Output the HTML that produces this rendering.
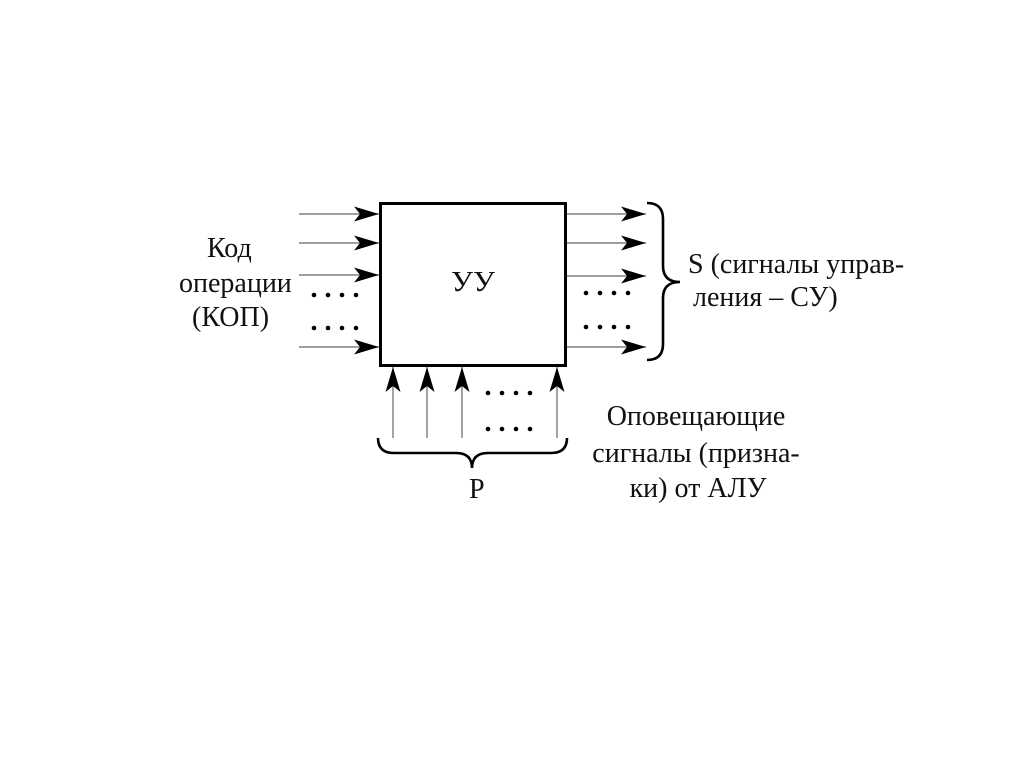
<!DOCTYPE html>
<html><head><meta charset="utf-8"><style>
html,body{margin:0;padding:0;background:#fff;}
svg{display:block;}
text{font-family:"Liberation Serif","DejaVu Serif",serif;font-size:28px;fill:#111;}
</style></head><body>
<svg width="1024" height="767" viewBox="0 0 1024 767" xmlns="http://www.w3.org/2000/svg">
<defs>
<marker id="ah" markerWidth="26" markerHeight="16" refX="25" refY="8" orient="auto" markerUnits="userSpaceOnUse">
<path d="M0,0.5 L25,8 L0,15.5 L6,8 Z" fill="#000"/>
</marker>
</defs>
<rect x="380.5" y="203.5" width="185" height="162" fill="none" stroke="#000" stroke-width="3"/>
<g stroke="#666" stroke-width="1.2">
<line x1="299" y1="214" x2="379" y2="214" marker-end="url(#ah)"/>
<line x1="299" y1="243" x2="379" y2="243" marker-end="url(#ah)"/>
<line x1="299" y1="275" x2="379" y2="275" marker-end="url(#ah)"/>
<line x1="299" y1="347" x2="379" y2="347" marker-end="url(#ah)"/>
<line x1="567" y1="214" x2="646" y2="214" marker-end="url(#ah)"/>
<line x1="567" y1="243" x2="646" y2="243" marker-end="url(#ah)"/>
<line x1="567" y1="276" x2="646" y2="276" marker-end="url(#ah)"/>
<line x1="567" y1="347" x2="646" y2="347" marker-end="url(#ah)"/>
<line x1="393" y1="438" x2="393" y2="367" marker-end="url(#ah)"/>
<line x1="427" y1="438" x2="427" y2="367" marker-end="url(#ah)"/>
<line x1="462" y1="438" x2="462" y2="367" marker-end="url(#ah)"/>
<line x1="557" y1="438" x2="557" y2="367" marker-end="url(#ah)"/>
</g>
<g fill="#000">
<circle cx="314" cy="295" r="2.3"/><circle cx="328" cy="295" r="2.3"/><circle cx="342" cy="295" r="2.3"/><circle cx="356" cy="295" r="2.3"/>
<circle cx="314" cy="328" r="2.3"/><circle cx="328" cy="328" r="2.3"/><circle cx="342" cy="328" r="2.3"/><circle cx="356" cy="328" r="2.3"/>
<circle cx="586" cy="293" r="2.3"/><circle cx="600" cy="293" r="2.3"/><circle cx="614" cy="293" r="2.3"/><circle cx="628" cy="293" r="2.3"/>
<circle cx="586" cy="327" r="2.3"/><circle cx="600" cy="327" r="2.3"/><circle cx="614" cy="327" r="2.3"/><circle cx="628" cy="327" r="2.3"/>
<circle cx="488" cy="393" r="2.3"/><circle cx="502" cy="393" r="2.3"/><circle cx="516" cy="393" r="2.3"/><circle cx="530" cy="393" r="2.3"/>
<circle cx="488" cy="429" r="2.3"/><circle cx="502" cy="429" r="2.3"/><circle cx="516" cy="429" r="2.3"/><circle cx="530" cy="429" r="2.3"/>
</g>
<path d="M647,203 Q663,203 663,219 L663,266 Q663,282 680,282 Q663,282 663,298 L663,344 Q663,360 647,360" fill="none" stroke="#000" stroke-width="2.6"/>
<path d="M378,438 Q378,453 394,453 L456,453 Q472,453 472,468 Q472,453 488,453 L551,453 Q567,453 567,438" fill="none" stroke="#000" stroke-width="2.6"/>
<text x="207" y="257">Код</text>
<text x="179" y="292">операции</text>
<text x="192" y="326">(КОП)</text>
<text x="451" y="291" font-size="30" textLength="44" lengthAdjust="spacingAndGlyphs">УУ</text>
<text x="688" y="273">S (сигналы управ-</text>
<text x="693" y="306">ления – СУ)</text>
<text x="696" y="425" text-anchor="middle">Оповещающие</text>
<text x="696" y="462" text-anchor="middle">сигналы (призна-</text>
<text x="698" y="497" text-anchor="middle">ки) от АЛУ</text>
<text x="469" y="498">P</text>
</svg>
</body></html>
